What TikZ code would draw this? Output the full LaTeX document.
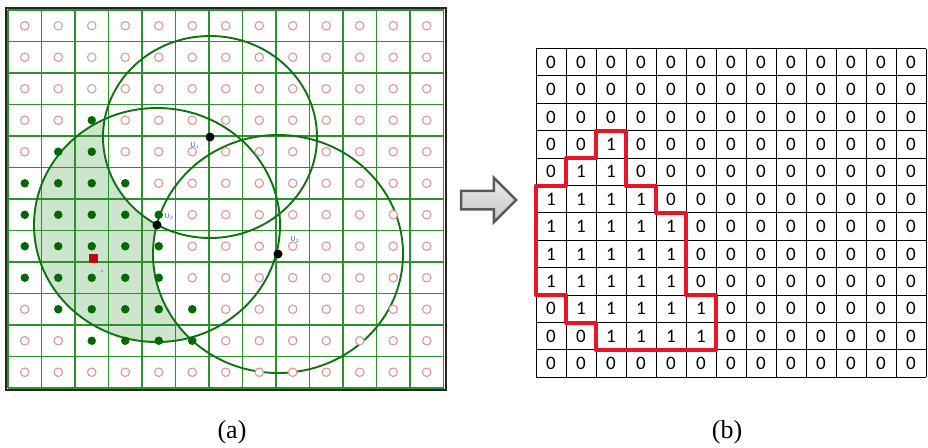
\documentclass[tikz,border=0pt]{standalone}
\usepackage{fontspec}
\setmainfont{Liberation Serif}
\newfontfamily\digitfont{Carlito}
\usetikzlibrary{shapes.arrows}

\definecolor{gridgreen}{RGB}{45,145,45}
\definecolor{rangegreen}{RGB}{15,115,15}
\definecolor{dotgreen}{RGB}{0,105,0}
\definecolor{shadegreen}{RGB}{205,228,205}
\definecolor{emptypink}{RGB}{222,150,150}
\definecolor{hullred}{RGB}{232,22,36}
\definecolor{targetred}{RGB}{190,10,10}

\begin{document}
\begin{tikzpicture}[
  x=1pt, y=-1pt,
  gridline/.style={gridgreen, line width=1.5pt},
  reach/.style={rangegreen, line width=1.9pt},
  sensor/.style={circle, fill=dotgreen, inner sep=0pt, minimum size=8.5pt},
  vacant/.style={circle, draw=emptypink, fill=white, line width=1.1pt,
                inner sep=0pt, minimum size=8.5pt},
  beacon/.style={circle, fill=black, inner sep=0pt, minimum size=9pt},
  ulab/.style={font=\sffamily\fontsize{7}{7}\selectfont, text=black!55!blue!70,
               inner sep=0pt},
  cellline/.style={black, line width=1pt},
  digit/.style={font=\digitfont\fontsize{19}{19}\selectfont, inner sep=0pt},
  hull/.style={hullred, line width=4pt, line join=round},
  captext/.style={font=\fontsize{26}{26}\selectfont, inner sep=0pt}
]
\useasboundingbox (0,0) rectangle (928,447);

% ---------- Field (a) ----------
\coordinate (c1) at (210,137);
\coordinate (c2) at (278,254);
\coordinate (c3) at (157,225);

% shaded part: inside c3, outside c1 and c2
\fill[shadegreen] (c3) ellipse [x radius=123, y radius=117];
\fill[white] (c1) ellipse [x radius=107, y radius=101];
\fill[white] (c2) ellipse [x radius=125, y radius=119];

\foreach \i in {0,...,13}
  \draw[gridline] ({8+33.5*\i},10) -- ({8+33.5*\i},388);
\foreach \j in {0,...,12}
  \draw[gridline] (8,{10+31.5*\j}) -- (444,{10+31.5*\j});
\draw[black!85, line width=2.5pt] (6,8) rectangle (446,390);

\draw[reach] (c1) ellipse [x radius=107, y radius=101];
\draw[reach] (c3) ellipse [x radius=123, y radius=117];
\draw[reach] (c2) ellipse [x radius=125, y radius=119];

% row / first green col / last green col / first gray col / last gray col
\foreach \r/\a/\b/\ga/\gb in {1/14/13/2/3,2/14/13/3/3,3/14/13/3/3,
    4/3/3/14/0,5/2/3/14/0,6/1/4/14/0,7/1/5/14/0,8/1/5/14/0,
    9/1/5/14/0,10/2/6/14/0,11/3/6/14/0,12/14/13/14/0}
  \foreach \c in {1,...,13} {
    \def\mk{emptypink}
    \ifnum\c<\ga\else\ifnum\c>\gb\else\def\mk{gray!60}\fi\fi
    \ifnum\c<\a
      \node[vacant, draw=\mk] (m-\r-\c) at ({8+33.5*(\c-0.5)},{10+31.5*(\r-0.5)}) {};
    \else\ifnum\c>\b
      \node[vacant, draw=\mk] (m-\r-\c) at ({8+33.5*(\c-0.5)},{10+31.5*(\r-0.5)}) {};
    \else
      \node[sensor] (m-\r-\c) at ({8+33.5*(\c-0.5)},{10+31.5*(\r-0.5)}) {};
    \fi\fi
  }

\node[fill=targetred, minimum size=9pt, inner sep=0pt] (target) at (93,258) {};
\node[circle, fill=emptypink, minimum size=3pt, inner sep=0pt] (spot) at (102,271) {};

\node[beacon] (u1) at (c1) {};
\node[beacon] (u2) at (c2) {};
\node[beacon] (u3) at (c3) {};
\node[ulab] (u1l) at (195,146) {U$_1$};
\node[ulab] (u3l) at (169,217) {U$_3$};
\node[ulab] (u2l) at (295,240) {U$_2$};

% ---------- Arrow ----------
\node[single arrow, top color=gray!15, bottom color=gray!45,
      draw=gray!70!black, line width=2.5pt,
      minimum height=55pt, inner xsep=0pt, inner ysep=8pt,
      single arrow head extend=13pt] (arrow) at (484,200) {};

% ---------- Matrix (b) ----------
\begin{scope}[shift={(536,48.5)}, x=30pt, y=-27.4pt]
  \foreach \i in {0,...,13} \draw[cellline] (\i,0) -- (\i,12);
  \foreach \j in {0,...,12} \draw[cellline] (0,\j) -- (13,\j);
  \foreach \r/\a/\b in {1/14/13,2/14/13,3/14/13,4/3/3,5/2/3,6/1/4,7/1/5,
      8/1/5,9/1/5,10/2/6,11/3/6,12/14/13}
    \foreach \c in {1,...,13} {
      \ifnum\c<\a \def\v{0}\else\ifnum\c>\b \def\v{0}\else \def\v{1}\fi\fi
      \node[digit] (t-\r-\c) at (\c-0.5,\r-0.5) {\v};
    }
  \draw[hull] (2,3) -- (3,3) -- (3,5) -- (4,5) -- (4,6) -- (5,6) -- (5,9)
    -- (6,9) -- (6,11) -- (2,11) -- (2,10) -- (1,10) -- (1,9) -- (0,9)
    -- (0,5) -- (1,5) -- (1,4) -- (2,4) -- cycle;
\end{scope}

% ---------- Captions ----------
\node[captext] (capa) at (232,432) {(a)};
\node[captext] (capb) at (727,432) {(b)};
\end{tikzpicture}
\end{document}
